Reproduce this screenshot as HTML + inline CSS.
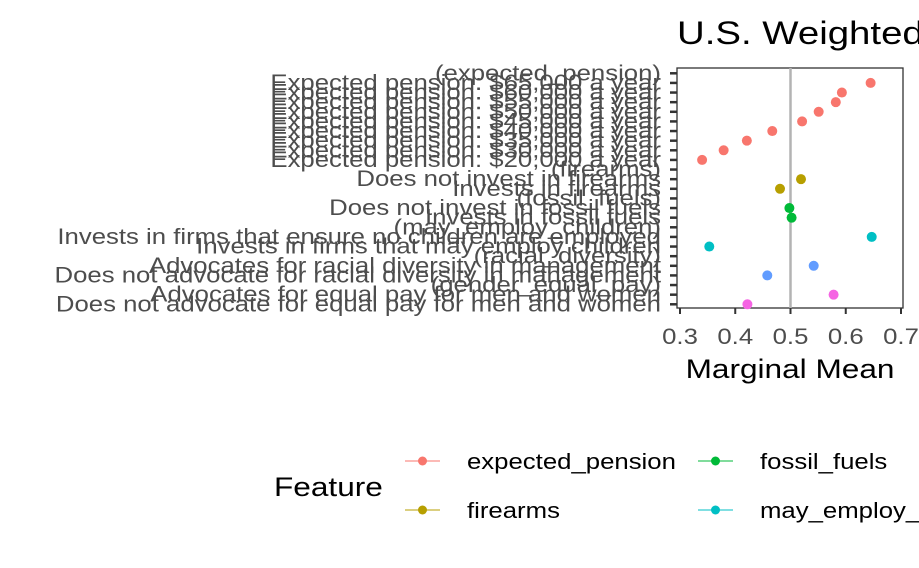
<!DOCTYPE html>
<html><head><meta charset="utf-8"><style>
html,body{margin:0;padding:0;background:#fff;}
svg{display:block;font-family:"Liberation Sans",Arial,sans-serif;}
</style></head><body>
<svg id="chart" width="919" height="568" viewBox="0 0 919 568">
<text transform="translate(677,44) scale(1.2,1)" font-size="32" fill="#000">U.S. Weighted</text>
<rect x="677" y="68" width="226" height="240" fill="none" stroke="#333" stroke-width="1.3"/>
<g id="ylabels"></g>
<g id="ticks"></g>
<g id="marks"></g>
<text transform="translate(790,378) scale(1.17,1)" font-size="27" text-anchor="middle" fill="#000">Marginal Mean</text>
<text transform="translate(274,496) scale(1.17,1)" font-size="27" fill="#000">Feature</text>
<g id="legend"></g>
</svg>
<script>
const labels=["(expected_pension)","Expected pension: $65,000 a year","Expected pension: $60,000 a year","Expected pension: $55,000 a year","Expected pension: $50,000 a year","Expected pension: $45,000 a year","Expected pension: $40,000 a year","Expected pension: $35,000 a year","Expected pension: $30,000 a year","Expected pension: $20,000 a year","(firearms)","Does not invest in firearms","Invests in firearms","(fossil_fuels)","Does not invest in fossil fuels","Invests in fossil fuels","(may_employ_children)","Invests in firms that ensure no children are employed","Invests in firms that may employ children","(racial_diversity)","Advocates for racial diversity in management","Does not advocate for racial diversity in management","(gender_equal_pay)","Advocates for equal pay for men and women","Does not advocate for equal pay for men and women"];
const values=[null,0.645,0.593,0.582,0.551,0.521,0.467,0.421,0.379,0.340,null,0.519,0.481,null,0.498,0.502,null,0.647,0.353,null,0.542,0.458,null,0.578,0.422];
const features=[null,"expected_pension","expected_pension","expected_pension","expected_pension","expected_pension","expected_pension","expected_pension","expected_pension","expected_pension",null,"firearms","firearms",null,"fossil_fuels","fossil_fuels",null,"may_employ_children","may_employ_children",null,"racial_diversity","racial_diversity",null,"gender_equal_pay","gender_equal_pay"];
const errors=[0,0.008,0.007,0.007,0.007,0.007,0.007,0.008,0.008,0.008,0,0.004,0.004,0,0.003,0.003,0,0.004,0.004,0,0.004,0.004,0,0.004,0.004];
const xTicks=[0.3,0.4,0.5,0.6,0.7];
const featureNames=["expected_pension","firearms","fossil_fuels","may_employ_children","racial_diversity","gender_equal_pay"];
const featureColors=["#F8766D","#B79F00","#00BA38","#00BFC4","#619CFF","#F564E3"];
const NS="http://www.w3.org/2000/svg";
const SX=1.17;
const x=v=>680+(v-0.3)*(901-680)/0.4;
const y=i=>73.3+i*(304.3-73.3)/(labels.length-1);
function mk(t,a,p){const e=document.createElementNS(NS,t);for(const k in a)e.setAttribute(k,a[k]);p.appendChild(e);return e;}
const yl=document.getElementById('ylabels'),tk=document.getElementById('ticks'),mg=document.getElementById('marks'),lg=document.getElementById('legend');
const ref=mk('line',{x1:x(0.5),x2:x(0.5),y1:68,y2:308,stroke:'#b3b3b3','stroke-width':2.5},mg);


labels.forEach((l,i)=>{
  const t=mk('text',{transform:`translate(661,${y(i)+7}) scale(${SX},1)`,'font-size':22,'text-anchor':'end',fill:'#4d4d4d'},yl);
  t.textContent=l;
  
  
  const tl=mk('line',{x1:670,x2:677,y1:y(i),y2:y(i),stroke:'#333','stroke-width':2.5},tk);
  
  
});
xTicks.forEach(v=>{
  const tl=mk('line',{x1:x(v),x2:x(v),y1:308,y2:314,stroke:'#333','stroke-width':2},tk);
  
  
  const t=mk('text',{transform:`translate(${x(v)},344) scale(${SX},1)`,'font-size':22,'text-anchor':'middle',fill:'#4d4d4d'},tk);
  t.textContent=v.toFixed(1);
  
  
});
values.forEach((v,i)=>{
  if(v===null)return;
  const c=featureColors[featureNames.indexOf(features[i])];
  const eb=mk('line',{x1:x(v-errors[i]),x2:x(v+errors[i]),y1:y(i),y2:y(i),stroke:c,'stroke-width':1.2},mg);
  
  
  const p=mk('circle',{cx:x(v),cy:y(i),r:5,fill:c},mg);
  
  
});
const legPos=[[405,461],[405,510],[698,461],[698,510]];
legPos.forEach((pos,k)=>{
  const g=mk('g',{},lg);
  
  
  mk('line',{x1:pos[0],x2:pos[0]+35,y1:pos[1],y2:pos[1],stroke:featureColors[k],'stroke-width':1},g);
  mk('circle',{cx:pos[0]+17.5,cy:pos[1],r:4.5,fill:featureColors[k]},g);
  const t=mk('text',{transform:`translate(${pos[0]+62},${pos[1]+8}) scale(${SX},1)`,'font-size':22,fill:'#000'},g);
  t.textContent=featureNames[k];
});
</script>
</body></html>
